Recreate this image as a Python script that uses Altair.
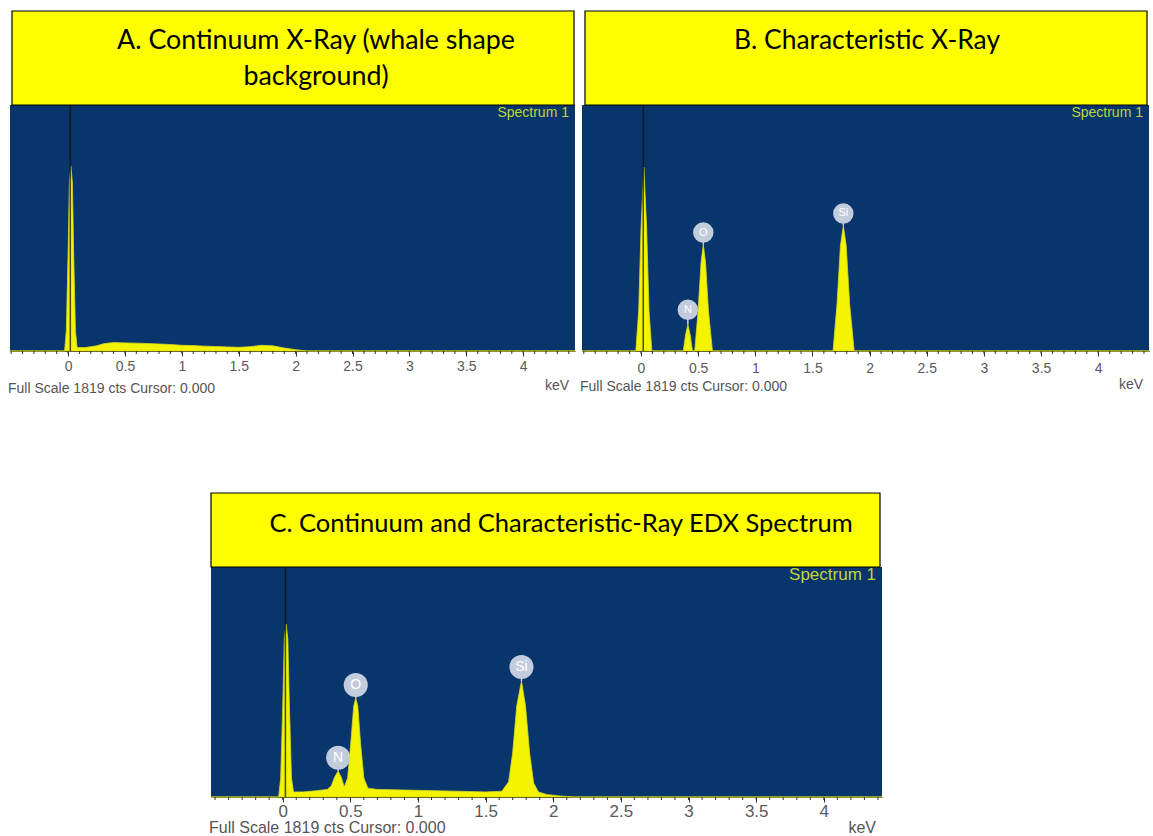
import altair as alt
import pandas as pd

# ---------------- data ----------------
panel_titles = ["A. Continuum X-Ray (whale shape\nbackground)",
                "B. Characteristic X-Ray",
                "C. Continuum and Characteristic-Ray EDX Spectrum"]
spectrum_name = "Spectrum 1"
footer_text = "Full Scale 1819 cts Cursor: 0.000"
unit_text = "keV"
full_scale = 1819
cursor_keV = 0.02
major_ticks = [0, 0.5, 1, 1.5, 2, 2.5, 3, 3.5, 4]
minor_ticks = [-0.5, -0.4, -0.3, -0.2, -0.1, 0.0, 0.1, 0.2, 0.3, 0.4, 0.5, 0.6, 0.7, 0.8, 0.9,
               1.0, 1.1, 1.2, 1.3, 1.4, 1.5, 1.6, 1.7, 1.8, 1.9, 2.0, 2.1, 2.2, 2.3, 2.4,
               2.5, 2.6, 2.7, 2.8, 2.9, 3.0, 3.1, 3.2, 3.3, 3.4, 3.5, 3.6, 3.7, 3.8, 3.9,
               4.0, 4.1, 4.2, 4.3, 4.4]

# Panel A: continuum only
energy_A = [-0.51, -0.03, -0.015, 0.0, 0.012, 0.025, 0.038, 0.05, 0.065, 0.08, 0.15, 0.25,
            0.32, 0.4, 0.5, 0.6, 0.7, 0.8, 0.9, 1.0, 1.1, 1.2, 1.3, 1.4, 1.5, 1.6, 1.7,
            1.8, 1.9, 2.0, 2.1, 4.455]
counts_A = [0, 0, 150, 700, 1250, 1368, 1250, 700, 150, 25, 25, 38,
            55, 62, 60, 58, 55, 52, 48, 42, 40, 36, 33, 30, 27, 32, 42,
            38, 22, 10, 0, 0]

# Panel B: characteristic lines only
energy_B = [-0.516, -0.045, -0.02, 0.0, 0.025, 0.05, 0.07, 0.095,
            0.37, 0.39, 0.41, 0.43, 0.45,
            0.47, 0.50, 0.525, 0.545, 0.565, 0.59, 0.625,
            1.68, 1.715, 1.745, 1.77, 1.795, 1.825, 1.865, 4.444]
counts_B = [0, 0, 300, 900, 1359, 900, 300, 0,
            0, 120, 195, 120, 0,
            0, 300, 650, 787, 650, 300, 0,
            0, 350, 780, 928, 780, 350, 0, 0]

# Panel C: continuum + characteristic lines
energy_C = [-0.53, -0.03, -0.015, 0.0, 0.012, 0.025, 0.038, 0.05, 0.065, 0.08, 0.15, 0.25,
            0.33, 0.36, 0.385, 0.41, 0.435, 0.455, 0.48, 0.505, 0.525, 0.54, 0.555,
            0.575, 0.6, 0.63, 0.7, 0.9, 1.2, 1.5, 1.62, 1.67, 1.70, 1.73, 1.765,
            1.795, 1.825, 1.855, 1.89, 1.95, 2.05, 2.15, 4.43]
counts_C = [0, 0, 150, 700, 1250, 1368, 1250, 700, 150, 40, 40, 50,
            60, 90, 160, 205, 150, 80, 150, 450, 720, 783, 720,
            430, 150, 70, 60, 55, 48, 40, 45, 120, 350, 720, 917,
            720, 350, 110, 40, 20, 8, 0, 0]

peak_labels = ["N", "O", "Si"]
peak_energy_B = [0.41, 0.545, 1.77]
peak_top_B = [195, 787, 928]
peak_mark_B = [305, 876, 1017]
peak_energy_C = [0.41, 0.54, 1.765]
peak_top_C = [205, 783, 917]
peak_mark_C = [311, 886, 1028]

# ---------------- styling ----------------
NAVY = "#08356b"
YELLOW = "#ffff00"
SPEC_YELLOW = "#f4f400"
TITLE_FONT = "Lato"
AXIS_FONT = "Liberation Sans"


def spectrum_panel(title, tbox, energy, counts, domain, width, height, lab_off, foot_off,
                   unit_off, small_fs, peaks=None, circ_size=420, el_fs=11, foot_fs=None):
    tx0, tx1, th, tcx, tcy, tfs = tbox
    foot_fs = foot_fs or small_fs
    xscale = alt.Scale(domain=domain, nice=False, zero=False)
    yscale = alt.Scale(domain=[0, full_scale], nice=False)
    xenc = alt.X("keV:Q", scale=xscale,
                 axis=alt.Axis(values=major_ticks, format="~g", title=None, grid=False,
                               labelColor="#5a5a5a", labelFont=AXIS_FONT,
                               labelFontSize=small_fs,
                               tickColor="#333", tickSize=5, tickWidth=1,
                               domainColor="#222", domainWidth=1,
                               labelPadding=lab_off - 5 - small_fs * 0.55, labelFlush=False))
    df = pd.DataFrame({"keV": energy, "cts": counts})
    area = alt.Chart(df).mark_area(fill=SPEC_YELLOW, stroke="#d8d820", strokeWidth=0.8,
                                   interpolate="linear").encode(
        x=xenc, y=alt.Y("cts:Q", scale=yscale, axis=None))

    mt = pd.DataFrame({"keV": minor_ticks})
    minor = alt.Chart(mt).mark_rule(color="#333", strokeWidth=1).encode(
        x=alt.X("keV:Q", scale=xscale), y=alt.value(height), y2=alt.value(height + 3))

    cur = pd.DataFrame({"keV": [cursor_keV], "lo": [0], "hi": [full_scale]})
    cursor = alt.Chart(cur).mark_rule(color="#111", strokeWidth=1.5, opacity=0.75).encode(
        x=alt.X("keV:Q", scale=xscale),
        y=alt.Y("lo:Q", scale=yscale, axis=None), y2="hi:Q")

    txt = pd.DataFrame({"s": [spectrum_name], "f": [footer_text], "u": [unit_text],
                        "t": [title]})
    spec = alt.Chart(txt).mark_text(font=AXIS_FONT, fontSize=small_fs, color="#c2d43a",
                                    align="right", baseline="middle").encode(
        x=alt.value(width - 6), y=alt.value(8), text="s:N")
    foot = alt.Chart(txt).mark_text(font=AXIS_FONT, fontSize=foot_fs, color="#555",
                                    align="left", baseline="middle").encode(
        x=alt.value(-2), y=alt.value(height + foot_off), text="f:N")
    unit = alt.Chart(txt).mark_text(font=AXIS_FONT, fontSize=foot_fs, color="#555",
                                    align="right", baseline="middle").encode(
        x=alt.value(width - 6), y=alt.value(height + unit_off), text="u:N")

    box = alt.Chart(txt).mark_rect(fill=YELLOW, stroke="black", strokeWidth=1.2).encode(
        x=alt.value(tx0), x2=alt.value(tx1), y=alt.value(-th), y2=alt.value(0))
    ttl = alt.Chart(txt).mark_text(font=TITLE_FONT, fontSize=tfs, color="black",
                                   lineBreak="\n", lineHeight=36,
                                   align="center", baseline="middle").encode(
        x=alt.value(tcx), y=alt.value(tcy - th), text="t:N")

    layers = [area, minor, cursor, spec, foot, unit, box, ttl]
    if peaks is not None:
        pe, pt, pm = peaks
        pdf = pd.DataFrame({"keV": pe, "top": pt, "mark": pm, "el": peak_labels})
        stem = alt.Chart(pdf).mark_rule(color="#c9d1e0", strokeWidth=1.5).encode(
            x=alt.X("keV:Q", scale=xscale), y=alt.Y("top:Q", scale=yscale, axis=None),
            y2="mark:Q")
        circ = alt.Chart(pdf).mark_circle(size=circ_size, color="#c3ccdc", opacity=1).encode(
            x=alt.X("keV:Q", scale=xscale), y=alt.Y("mark:Q", scale=yscale, axis=None))
        el = alt.Chart(pdf).mark_text(font=AXIS_FONT, fontSize=el_fs,
                                      color="white", baseline="middle").encode(
            x=alt.X("keV:Q", scale=xscale), y=alt.Y("mark:Q", scale=yscale, axis=None),
            text="el:N")
        layers += [stem, circ, el]
    return alt.layer(*layers).properties(width=width, height=height,
                                         view=alt.ViewBackground(fill=NAVY, stroke=None))


panelA = spectrum_panel(panel_titles[0], (2, 564, 94, 306, 30, 26.8),
                        energy_A, counts_A, [-0.51, 4.455], 565, 246, 16, 38, 35, 14)
panelB = spectrum_panel(panel_titles[1], (3, 565, 94, 285, 30, 26.4),
                        energy_B, counts_B, [-0.516, 4.444], 567, 246, 18, 36, 34, 14,
                        peaks=(peak_energy_B, peak_top_B, peak_mark_B), circ_size=420,
                        el_fs=11)
panelC = spectrum_panel(panel_titles[2], (0, 669, 74, 350, 31, 25.5),
                        energy_C, counts_C, [-0.53, 4.43], 671, 230, 16, 31, 31, 17,
                        peaks=(peak_energy_C, peak_top_C, peak_mark_C), circ_size=580,
                        el_fs=14, foot_fs=16)

spacer = alt.Chart(pd.DataFrame({"a": [0]})).mark_text(text="").encode(
    x=alt.value(0), y=alt.value(0)).properties(width=1, height=1,
                                               view=alt.ViewBackground(stroke=None))

row1 = alt.hconcat(panelA, panelB, spacing=3)
row2 = alt.hconcat(spacer, panelC, spacing=198)

chart = alt.vconcat(row1, row2, spacing=96).properties(
    padding={"left": 8, "top": 10, "right": 0, "bottom": 0},
    background="white")

chart.save("out.html", embed_options={"renderer": "svg", "actions": False})
